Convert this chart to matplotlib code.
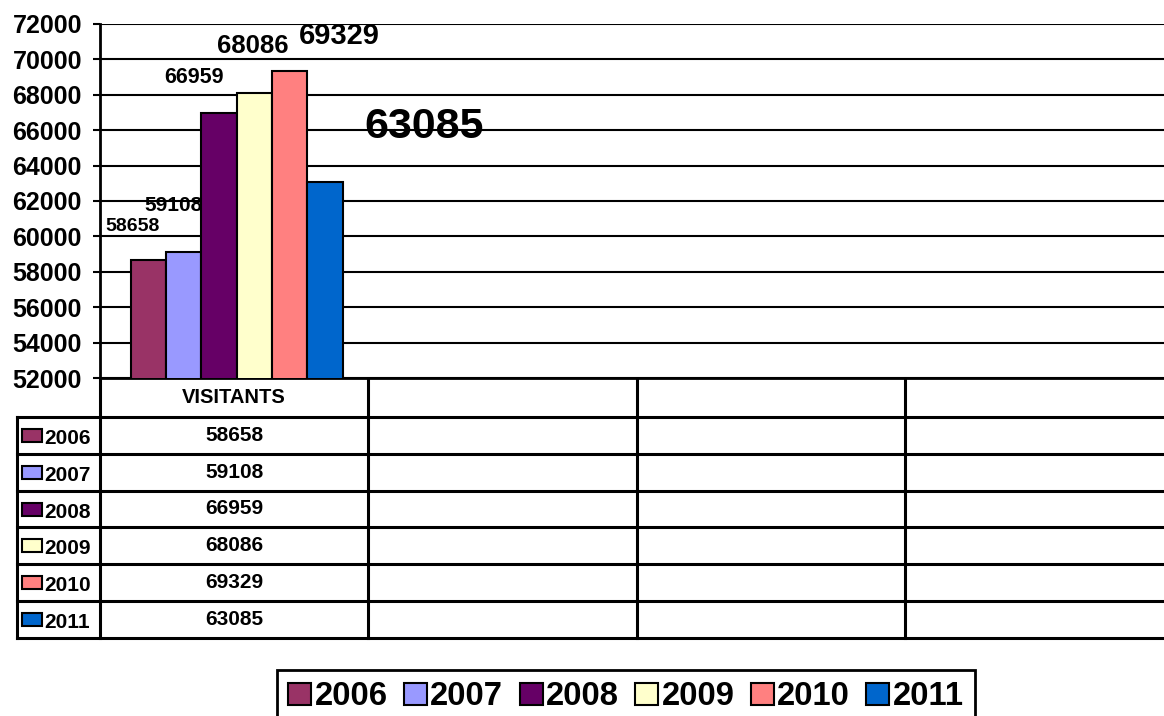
import matplotlib.pyplot as plt
from matplotlib.patches import Patch, Rectangle
from matplotlib.font_manager import FontProperties

# dades
anys = ['2006', '2007', '2008', '2009', '2010', '2011']
visitants = [58658, 59108, 66959, 68086, 69329, 63085]
categories = ['VISITANTS', '', '', '']
colors = ['#993366', '#9999FF', '#660066', '#FFFFCC', '#FF8080', '#0066CC']
yticks = list(range(52000, 72001, 2000))

# estil de les etiquetes (desplaçament en píxels, mida en pt)
etiq_dx = [-16, -10, -25, -2, 50, 99]
etiq_dy = [34, 47, 36, 47, 35, 55]
etiq_mida = [14, 15, 15.5, 18.5, 21, 31]

plt.rcParams['font.family'] = ['Liberation Sans', 'DejaVu Sans']
plt.rcParams['font.weight'] = 'bold'

W, H = 1164, 716
fig = plt.figure(figsize=(W / 100, H / 100), dpi=100)

x0, y_top, y_bot = 100, 24, 378
cat_w = 268.25
n_cat = len(categories)

ax = fig.add_axes([x0 / W, 1 - y_bot / H, n_cat * cat_w / W, (y_bot - y_top) / H])
ax.set_xlim(-0.5, n_cat - 0.5)
ax.set_ylim(yticks[0], yticks[-1])

bw = 0.79 / len(anys)
for i, (v, c) in enumerate(zip(visitants, colors)):
    xc = 0.01 + (i - (len(anys) - 1) / 2) * bw
    ax.bar(xc, v, width=bw, color=c, edgecolor='black', linewidth=1.5, zorder=3)
    ax.annotate(str(v), (xc, v), xytext=(etiq_dx[i], etiq_dy[i]),
                textcoords='offset pixels', ha='center', va='center',
                fontsize=etiq_mida[i], fontweight='bold', zorder=4,
                annotation_clip=False)

ax.set_yticks(yticks)
ax.set_yticklabels([str(t) for t in yticks], fontsize=18, fontweight='bold')
ax.set_xticks([])
ax.yaxis.grid(True, color='black', linewidth=1.5)
ax.set_axisbelow(True)
ax.tick_params(axis='y', length=5, width=1.5, pad=8)
for s in ['top', 'right']:
    ax.spines[s].set_visible(False)
ax.spines['left'].set_linewidth(2)
ax.spines['bottom'].set_linewidth(2)

# taula de dades
tax = fig.add_axes([0, 0, 1, 1], zorder=-1)
tax.set_xlim(0, W)
tax.set_ylim(H, 0)
tax.axis('off')

row0 = 417
row_h = 36.8
x_left = 17
x_right = x0 + n_cat * cat_w
lw = 2.2
for k in range(len(anys) + 1):
    y = row0 + k * row_h
    tax.plot([x_left, x_right], [y, y], color='black', lw=lw)
y_end = row0 + len(anys) * row_h
tax.plot([x_left, x_left], [row0, y_end], color='black', lw=lw)
for j in range(n_cat + 1):
    xe = x0 + j * cat_w
    tax.plot([xe, xe], [y_bot, y_end], color='black', lw=lw)

for j, cat in enumerate(categories):
    tax.text(x0 + (j + 0.5) * cat_w, (y_bot + row0) / 2, cat,
             ha='center', va='center', fontsize=14.5, fontweight='bold')

for i, (a, v, c) in enumerate(zip(anys, visitants, colors)):
    yc = row0 + (i + 0.5) * row_h
    tax.add_patch(Rectangle((22, yc - 6.5), 20, 13, facecolor=c,
                            edgecolor='black', lw=1.5))
    tax.text(44, yc + 3, a, ha='left', va='center', fontsize=15, fontweight='bold')
    tax.text(x0 + 0.5 * cat_w, yc, str(v), ha='center', va='center',
             fontsize=15, fontweight='bold')

# llegenda
handles = [Patch(facecolor=c, edgecolor='black', linewidth=1.5, label=a)
           for a, c in zip(anys, colors)]
leg = fig.legend(handles=handles, loc='upper left',
                 bbox_to_anchor=(277 / W, 1 - 670 / H), ncol=len(anys),
                 prop=FontProperties(family='Liberation Sans', weight='bold', size=23.6),
                 frameon=True, fancybox=False, edgecolor='black', framealpha=1,
                 handlelength=0.7, handleheight=0.7, handletextpad=0.1,
                 columnspacing=0.5, borderpad=0.35, borderaxespad=0)
leg.get_frame().set_linewidth(2)

fig.savefig('out.png', dpi=100)
